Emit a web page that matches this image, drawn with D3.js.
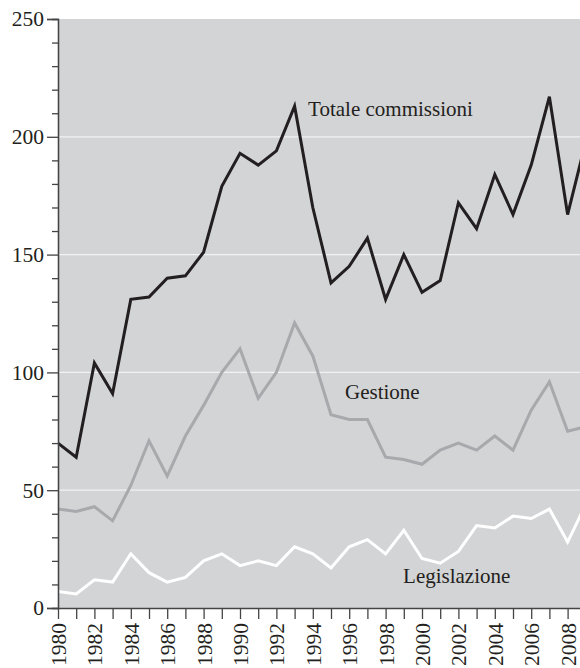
<!DOCTYPE html>
<html>
<head>
<meta charset="utf-8">
<script src="https://cdn.jsdelivr.net/npm/d3@7"></script>
<style>
  html, body { margin: 0; padding: 0; background: #ffffff; }
  svg { display: block; }
</style>
</head>
<body>
<svg id="chart" width="580" height="668"></svg>
<script>
const years = d3.range(1980, 2010);
const totale = [70, 64, 104, 91, 131, 132, 140, 141, 151, 179, 193, 188, 194, 213, 170, 138, 145, 157, 131, 150, 134, 139, 172, 161, 184, 167, 188, 217, 167, 198];
const gestione = [42, 41, 43, 37, 52, 71, 56, 73, 86, 100, 110, 89, 100, 121, 107, 82, 80, 80, 64, 63, 61, 67, 70, 67, 73, 67, 84, 96, 75, 77];
const legislazione = [7, 6, 12, 11, 23, 15, 11, 13, 20, 23, 18, 20, 18, 26, 23, 17, 26, 29, 23, 33, 21, 19, 24, 35, 34, 39, 38, 42, 28, 44];
const seriesNames = ["Totale commissioni", "Gestione", "Legislazione"];
const yMajorTicks = [0, 50, 100, 150, 200, 250];
const yMinorTicks = d3.range(0, 251, 10);
const xLabelYears = d3.range(1980, 2009, 2);

(function () {
const W = 580, H = 668;
const mLeft = 58, mTop = 19, mBottom = 608;
const step = 18.2;

const svg = d3.select("#chart");
const x = d3.scaleLinear().domain([1980, 2009]).range([mLeft, mLeft + 29 * step]);
const y = d3.scaleLinear().domain([0, 250]).range([mBottom, mTop]);

svg.append("defs").append("clipPath").attr("id", "plotclip")
  .append("rect").attr("x", mLeft).attr("y", mTop).attr("width", W - mLeft).attr("height", mBottom - mTop);

// background
svg.append("rect").attr("x", mLeft).attr("y", mTop).attr("width", W - mLeft).attr("height", mBottom - mTop)
  .attr("fill", "#d3d4d6");

// gridlines
svg.append("g").selectAll("line").data(yMajorTicks.filter(v => v > 0 && v < 250)).join("line")
  .attr("x1", mLeft).attr("x2", W).attr("y1", d => y(d)).attr("y2", d => y(d))
  .attr("stroke", "#f2f2f2").attr("stroke-width", 1.3);

const font = "'Liberation Serif', 'Times New Roman', serif";
const ink = "#231f20";

// lines
const line = d3.line().x((d, i) => x(years[i])).y(d => y(d));
const g = svg.append("g").attr("clip-path", "url(#plotclip)");
const styles = [
  { data: gestione, color: "#a7a9ac" },
  { data: legislazione, color: "#ffffff" },
  { data: totale, color: ink }
];
g.selectAll("path").data(styles).join("path")
  .attr("d", d => line(d.data))
  .attr("fill", "none")
  .attr("stroke", d => d.color)
  .attr("stroke-width", 3)
  .attr("stroke-linejoin", "miter");

// y axis
const yAxisMinor = d3.axisLeft(y).tickValues(yMinorTicks.filter(v => v % 50 !== 0)).tickSize(6).tickFormat("");
const yAxisMajor = d3.axisLeft(y).tickValues(yMajorTicks).tickSize(11).tickPadding(3).tickFormat(d3.format("d"));
const gyMinor = svg.append("g").attr("transform", `translate(${mLeft},0)`).call(yAxisMinor);
const gyMajor = svg.append("g").attr("transform", `translate(${mLeft},0)`).call(yAxisMajor);
[gyMinor, gyMajor].forEach(ga => {
  ga.select(".domain").attr("stroke", "#444").attr("stroke-width", 1.3);
  ga.selectAll(".tick line").attr("stroke", "#444").attr("stroke-width", 1.3);
});
gyMajor.selectAll("text").attr("font-family", font).attr("font-size", 21.5).attr("fill", ink);

// x axis
const xAxis = d3.axisBottom(x).tickValues(d3.range(1980, 2009)).tickSize(11)
  .tickFormat(d => (xLabelYears.includes(d) ? String(d) : ""));
const gx = svg.append("g").attr("transform", `translate(0,${mBottom})`).call(xAxis);
gx.select(".domain").attr("d", `M${mLeft},0.5H${W}`).attr("stroke", "#444").attr("stroke-width", 1.3);
gx.selectAll(".tick line").attr("stroke", "#444").attr("stroke-width", 1.3);
gx.selectAll("text")
  .attr("font-family", font).attr("font-size", 21.5).attr("fill", ink)
  .attr("transform", "rotate(-90)")
  .attr("x", -15).attr("y", 0).attr("dy", "0.35em")
  .attr("text-anchor", "end");

// series labels
const labelPos = [
  { name: seriesNames[0], year: 1993.74, value: 209 },
  { name: seriesNames[1], year: 1995.77, value: 88.5 },
  { name: seriesNames[2], year: 1998.96, value: 10.5 }
];
svg.append("g").selectAll("text").data(labelPos).join("text")
  .attr("x", d => x(d.year)).attr("y", d => y(d.value))
  .attr("font-family", font).attr("font-size", 21).attr("fill", ink)
  .text(d => d.name);
})();
</script>
</body>
</html>
